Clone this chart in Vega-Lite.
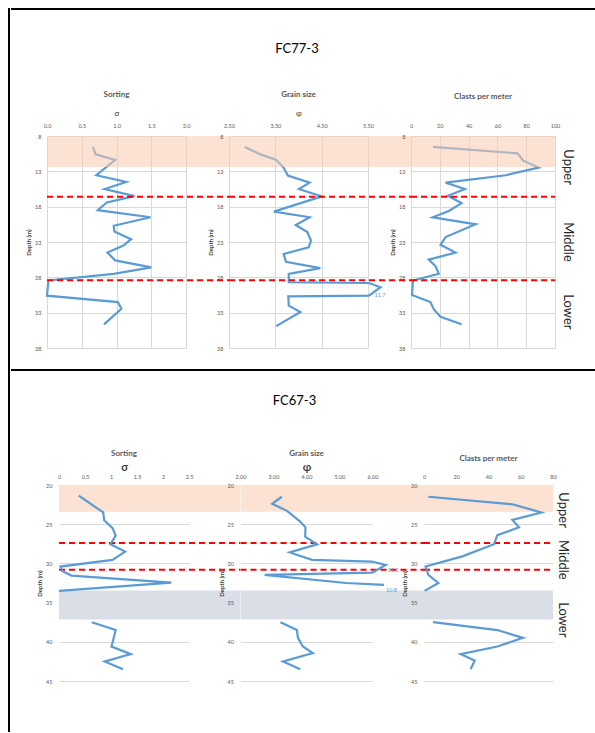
{
  "$schema": "https://vega.github.io/schema/vega-lite/v6.json",
  "padding": {"left": 8, "top": 8, "right": 0, "bottom": 0},
  "background": "white",
  "config": {
    "font": "Lato",
    "view": {"stroke": null},
    "axis": {"labelFont": "Lato", "labelFontSize": 5.5, "labelColor": "#595959", "labelOverlap": false, "gridColor": "#D9D9D9", "gridWidth": 1, "domain": false, "ticks": false, "tickSize": 0, "labelFlush": false, "titleFont": "Lato", "titleColor": "#404040"},
    "title": {"font": "Lato", "color": "#595959", "fontSize": 8, "fontWeight": "bold"}
  },
  "datasets": {
    "top_sort": [
      {"sigma": 0.66, "depth": 9.55}, {"sigma": 0.70, "depth": 10.6}, {"sigma": 0.98, "depth": 11.4}, {"sigma": 0.71, "depth": 13.55},
      {"sigma": 1.14, "depth": 14.5}, {"sigma": 0.83, "depth": 15.5}, {"sigma": 1.26, "depth": 16.5}, {"sigma": 0.86, "depth": 17.4},
      {"sigma": 0.73, "depth": 18.5}, {"sigma": 1.49, "depth": 19.5}, {"sigma": 0.96, "depth": 20.7}, {"sigma": 0.97, "depth": 21.5},
      {"sigma": 1.21, "depth": 22.6}, {"sigma": 1.10, "depth": 23.5}, {"sigma": 0.87, "depth": 24.5}, {"sigma": 0.98, "depth": 25.6},
      {"sigma": 1.50, "depth": 26.6}, {"sigma": 0.96, "depth": 27.5}, {"sigma": 0.02, "depth": 28.45}, {"sigma": 0.0, "depth": 30.6},
      {"sigma": 1.02, "depth": 31.5}, {"sigma": 1.07, "depth": 32.45}, {"sigma": 0.82, "depth": 34.65}
    ],
    "top_grain": [
      {"phi": 2.84, "depth": 9.55}, {"phi": 3.18, "depth": 10.6}, {"phi": 3.52, "depth": 11.4}, {"phi": 3.68, "depth": 12.5},
      {"phi": 3.77, "depth": 13.6}, {"phi": 4.24, "depth": 14.6}, {"phi": 4.01, "depth": 15.5}, {"phi": 4.50, "depth": 16.55},
      {"phi": 3.47, "depth": 18.7}, {"phi": 4.24, "depth": 19.5}, {"phi": 3.94, "depth": 20.6}, {"phi": 4.19, "depth": 21.6},
      {"phi": 4.27, "depth": 22.8}, {"phi": 4.22, "depth": 23.75}, {"phi": 3.68, "depth": 24.7}, {"phi": 3.73, "depth": 25.8},
      {"phi": 4.47, "depth": 26.7}, {"phi": 3.79, "depth": 27.5}, {"phi": 3.79, "depth": 28.7}, {"phi": 5.52, "depth": 28.8},
      {"phi": 5.77, "depth": 29.4, "label": "11.7"}, {"phi": 5.52, "depth": 30.6}, {"phi": 3.78, "depth": 30.7}, {"phi": 3.79, "depth": 32.0},
      {"phi": 4.04, "depth": 32.9}, {"phi": 3.52, "depth": 34.9}
    ],
    "top_clast": [
      {"clasts": 15.3, "depth": 9.55}, {"clasts": 74, "depth": 10.45}, {"clasts": 78, "depth": 11.5}, {"clasts": 88.6, "depth": 12.47},
      {"clasts": 65.8, "depth": 13.55}, {"clasts": 24, "depth": 14.6}, {"clasts": 37.4, "depth": 15.5}, {"clasts": 25.6, "depth": 16.46},
      {"clasts": 35.1, "depth": 17.5}, {"clasts": 26.3, "depth": 18.6}, {"clasts": 15.1, "depth": 19.5}, {"clasts": 44.9, "depth": 20.5},
      {"clasts": 24, "depth": 22.3}, {"clasts": 20.5, "depth": 23.4}, {"clasts": 30.9, "depth": 24.5}, {"clasts": 12.3, "depth": 25.5},
      {"clasts": 17, "depth": 26.4}, {"clasts": 19.3, "depth": 27.5}, {"clasts": 1.4, "depth": 28.45}, {"clasts": 0.7, "depth": 30.5},
      {"clasts": 13.5, "depth": 31.5}, {"clasts": 15.8, "depth": 32.5}, {"clasts": 20.5, "depth": 33.6}, {"clasts": 35.1, "depth": 34.65}
    ],
    "bot_sort": [
      {"sigma": 0.38, "depth": 21.36, "seg": "a"}, {"sigma": 0.85, "depth": 23.5, "seg": "a"}, {"sigma": 0.87, "depth": 24.5, "seg": "a"},
      {"sigma": 1.03, "depth": 25.5, "seg": "a"}, {"sigma": 1.09, "depth": 26.45, "seg": "a"}, {"sigma": 0.99, "depth": 27.56, "seg": "a"},
      {"sigma": 1.27, "depth": 28.5, "seg": "a"}, {"sigma": 1.03, "depth": 29.55, "seg": "a"}, {"sigma": 0.03, "depth": 30.4, "seg": "a"},
      {"sigma": 0.06, "depth": 30.96, "seg": "a"}, {"sigma": 0.24, "depth": 31.55, "seg": "a"}, {"sigma": 2.16, "depth": 32.44, "seg": "a"},
      {"sigma": 0.0, "depth": 33.5, "seg": "a"},
      {"sigma": 0.63, "depth": 37.5, "seg": "b"}, {"sigma": 1.09, "depth": 38.5, "seg": "b"}, {"sigma": 1.01, "depth": 40.6, "seg": "b"},
      {"sigma": 1.38, "depth": 41.57, "seg": "b"}, {"sigma": 0.88, "depth": 42.5, "seg": "b"}, {"sigma": 1.23, "depth": 43.5, "seg": "b"}
    ],
    "bot_grain": [
      {"phi": 3.25, "depth": 21.5, "seg": "a"}, {"phi": 2.96, "depth": 22.4, "seg": "a"}, {"phi": 3.41, "depth": 23.3, "seg": "a"},
      {"phi": 3.79, "depth": 24.6, "seg": "a"}, {"phi": 3.97, "depth": 25.4, "seg": "a"}, {"phi": 3.96, "depth": 26.6, "seg": "a"},
      {"phi": 4.32, "depth": 27.56, "seg": "a"}, {"phi": 3.49, "depth": 28.6, "seg": "a"}, {"phi": 4.17, "depth": 29.55, "seg": "a"},
      {"phi": 5.98, "depth": 29.77, "seg": "a"}, {"phi": 6.40, "depth": 30.2, "seg": "a", "label": "11.1"}, {"phi": 6.00, "depth": 31.17, "seg": "a"},
      {"phi": 2.73, "depth": 31.46, "seg": "a"}, {"phi": 5.20, "depth": 32.5, "seg": "a"}, {"phi": 6.35, "depth": 32.74, "seg": "a", "label": "10.8"},
      {"phi": 3.21, "depth": 37.5, "seg": "b"}, {"phi": 3.71, "depth": 38.5, "seg": "b"}, {"phi": 3.74, "depth": 39.5, "seg": "b"},
      {"phi": 3.89, "depth": 40.6, "seg": "b"}, {"phi": 4.19, "depth": 41.44, "seg": "b"}, {"phi": 3.29, "depth": 42.5, "seg": "b"},
      {"phi": 3.81, "depth": 43.5, "seg": "b"}
    ],
    "bot_clast": [
      {"clasts": 2.7, "depth": 21.5, "seg": "a"}, {"clasts": 54.8, "depth": 22.46, "seg": "a"}, {"clasts": 72.8, "depth": 23.5, "seg": "a"},
      {"clasts": 54.8, "depth": 24.46, "seg": "a"}, {"clasts": 58.9, "depth": 25.4, "seg": "a"}, {"clasts": 45.5, "depth": 26.4, "seg": "a"},
      {"clasts": 43.4, "depth": 27.56, "seg": "a"}, {"clasts": 23.8, "depth": 29.1, "seg": "a"}, {"clasts": 1.0, "depth": 30.4, "seg": "a"},
      {"clasts": 2.7, "depth": 31.46, "seg": "a"}, {"clasts": 8.9, "depth": 32.5, "seg": "a"}, {"clasts": 0.4, "depth": 33.5, "seg": "a"},
      {"clasts": 5.6, "depth": 37.5, "seg": "b"}, {"clasts": 45.5, "depth": 38.5, "seg": "b"}, {"clasts": 61.4, "depth": 39.5, "seg": "b"},
      {"clasts": 45.5, "depth": 40.6, "seg": "b"}, {"clasts": 22.7, "depth": 41.57, "seg": "b"}, {"clasts": 31.4, "depth": 42.4, "seg": "b"},
      {"clasts": 28.9, "depth": 43.5, "seg": "b"}
    ],
    "top_bands": [{"kind": "Upper", "top": 8, "bottom": 12.4}],
    "bot_bands": [{"kind": "Upper", "top": 20, "bottom": 23.4}, {"kind": "Gap", "top": 33.45, "bottom": 37.15}],
    "top_bounds": [{"depth": 16.6}, {"depth": 28.4}],
    "bot_bounds": [{"depth": 27.4}, {"depth": 30.8}],
    "top_zones": [{"zone": "Upper", "depth": 12.4}, {"zone": "Middle", "depth": 23.0}, {"zone": "Lower", "depth": 32.9}],
    "bot_zones": [{"zone": "Upper", "depth": 23.2}, {"zone": "Middle", "depth": 29.55}, {"zone": "Lower", "depth": 37.2}]
  },
  "spacing": 0,
  "hconcat": [
    {"width": 0.01, "height": 722, "data": {"values": []}, "mark": "rule", "encoding": {}, "view": {"stroke": "black", "strokeWidth": 2}},
    {
      "spacing": 0,
      "vconcat": [
        {"width": 583, "height": 0.01, "data": {"values": []}, "mark": "rule", "encoding": {}, "view": {"stroke": "black", "strokeWidth": 2}},
        {"width": 1, "height": 32, "data": {"values": []}, "mark": "rule", "encoding": {}},
        {
          "title": {"text": "FC77-3", "anchor": "middle", "fontSize": 13, "fontWeight": "normal", "color": "black", "offset": 35, "dx": 4},
          "spacing": 12,
          "hconcat": [
            {"width": 1, "height": 1, "data": {"values": []}, "mark": "rule", "encoding": {}},
            {
              "spacing": 43,
              "bounds": "flush",
              "hconcat": [
                {
                  "width": 139, "height": 212,
                  "title": {"text": "Sorting", "offset": 10},
                  "layer": [
                    {"data": {"name": "top_sort"}, "mark": {"type": "line", "color": "#5B9BD5", "strokeWidth": 2.2},
                     "encoding": {
                       "x": {"field": "sigma", "type": "quantitative", "scale": {"domain": [0, 2], "nice": false, "zero": false},
                             "axis": {"orient": "top", "values": [0, 0.5, 1, 1.5, 2], "tickCount": 50, "format": ".1f", "labelOverlap": false, "title": "σ", "titleFontSize": 8, "titleFontWeight": "normal", "titleColor": "#404040", "labelPadding": 8, "titlePadding": 6}},
                       "y": {"field": "depth", "type": "quantitative", "scale": {"domain": [8, 38], "nice": false, "zero": false, "reverse": true},
                             "axis": {"values": [8, 13, 18, 23, 28, 33, 38], "tickCount": 50, "format": "d", "labelOverlap": false, "title": "Depth (m)", "titleFontSize": 6, "titleFontWeight": "bold", "labelPadding": 6, "titlePadding": 3}},
                       "order": {"field": "depth", "type": "quantitative"}
                     }},
                    {"data": {"name": "top_bands"}, "mark": {"type": "rect", "color": "#F8CBAD", "opacity": 0.55},
                     "encoding": {"x": {"datum": 0}, "x2": {"datum": 2.62}, "y": {"field": "top", "type": "quantitative"}, "y2": {"field": "bottom"}}},
                    {"data": {"name": "top_bounds"}, "mark": {"type": "rule", "color": "#FF0000", "strokeWidth": 2, "strokeDash": [6, 4]},
                     "encoding": {"x": {"datum": 0}, "x2": {"datum": 2.62}, "y": {"field": "depth", "type": "quantitative"}}}
                  ]
                },
                {
                  "width": 139, "height": 212,
                  "title": {"text": "Grain size", "offset": 10},
                  "layer": [
                    {"data": {"name": "top_grain"}, "mark": {"type": "line", "color": "#5B9BD5", "strokeWidth": 2.2},
                     "encoding": {
                       "x": {"field": "phi", "type": "quantitative", "scale": {"domain": [2.5, 5.5], "nice": false, "zero": false},
                             "axis": {"orient": "top", "values": [2.5, 3.5, 4.5, 5.5], "tickCount": 50, "format": ".2f", "labelOverlap": false, "title": "φ", "titleFontSize": 8, "titleFontWeight": "normal", "titleColor": "#404040", "labelPadding": 8, "titlePadding": 6}},
                       "y": {"field": "depth", "type": "quantitative", "scale": {"domain": [8, 38], "nice": false, "zero": false, "reverse": true},
                             "axis": {"values": [8, 13, 18, 23, 28, 33, 38], "tickCount": 50, "format": "d", "labelOverlap": false, "title": "Depth (m)", "titleFontSize": 6, "titleFontWeight": "bold", "labelPadding": 6, "titlePadding": 3}},
                       "order": {"field": "depth", "type": "quantitative"}
                     }},
                    {"data": {"name": "top_grain"}, "transform": [{"filter": "datum.label != null"}],
                     "mark": {"type": "text", "color": "#5B9BD5", "fontSize": 5.5, "align": "left", "baseline": "top", "dx": -6, "dy": 6},
                     "encoding": {"x": {"field": "phi", "type": "quantitative"}, "y": {"field": "depth", "type": "quantitative"}, "text": {"field": "label"}}},
                    {"data": {"name": "top_bands"}, "mark": {"type": "rect", "color": "#F8CBAD", "opacity": 0.55},
                     "encoding": {"x": {"datum": 2.5}, "x2": {"datum": 6.428}, "y": {"field": "top", "type": "quantitative"}, "y2": {"field": "bottom"}}},
                    {"data": {"name": "top_bounds"}, "mark": {"type": "rule", "color": "#FF0000", "strokeWidth": 2, "strokeDash": [6, 4]},
                     "encoding": {"x": {"datum": 2.5}, "x2": {"datum": 6.428}, "y": {"field": "depth", "type": "quantitative"}}}
                  ]
                },
                {
                  "width": 144, "height": 212,
                  "title": {"text": "Clasts per meter", "offset": 22},
                  "layer": [
                    {"data": {"name": "top_clast"}, "mark": {"type": "line", "color": "#5B9BD5", "strokeWidth": 2.2},
                     "encoding": {
                       "x": {"field": "clasts", "type": "quantitative", "scale": {"domain": [0, 100], "nice": false, "zero": false},
                             "axis": {"orient": "top", "values": [0, 20, 40, 60, 80, 100], "tickCount": 50, "format": "d", "labelOverlap": false, "title": null, "labelPadding": 8}},
                       "y": {"field": "depth", "type": "quantitative", "scale": {"domain": [8, 38], "nice": false, "zero": false, "reverse": true},
                             "axis": {"values": [8, 13, 18, 23, 28, 33, 38], "tickCount": 50, "format": "d", "labelOverlap": false, "title": "Depth (m)", "titleFontSize": 6, "titleFontWeight": "bold", "labelPadding": 6, "titlePadding": 3}},
                       "order": {"field": "depth", "type": "quantitative"}
                     }},
                    {"data": {"name": "top_bands"}, "mark": {"type": "rect", "color": "#F8CBAD", "opacity": 0.55},
                     "encoding": {"x": {"datum": 0}, "x2": {"datum": 100}, "y": {"field": "top", "type": "quantitative"}, "y2": {"field": "bottom"}}},
                    {"data": {"name": "top_bounds"}, "mark": {"type": "rule", "color": "#FF0000", "strokeWidth": 2, "strokeDash": [6, 4]},
                     "encoding": {"x": {"datum": 0}, "x2": {"datum": 100}, "y": {"field": "depth", "type": "quantitative"}}},
                    {"data": {"name": "top_zones"}, "mark": {"type": "text", "angle": 90, "fontSize": 13, "color": "#262626", "font": "Lato", "align": "center", "baseline": "middle"},
                     "encoding": {"x": {"datum": 109}, "y": {"field": "depth", "type": "quantitative"}, "text": {"field": "zone"}}}
                  ]
                }
              ]
            }
          ]
        },
        {"width": 1, "height": 17, "data": {"values": []}, "mark": "rule", "encoding": {}},
        {"width": 583, "height": 0.01, "data": {"values": []}, "mark": "rule", "encoding": {}, "view": {"stroke": "black", "strokeWidth": 2}},
        {"width": 1, "height": 23, "data": {"values": []}, "mark": "rule", "encoding": {}},
        {
          "title": {"text": "FC67-3", "anchor": "middle", "fontSize": 13, "fontWeight": "normal", "color": "black", "offset": 42, "dx": 4},
          "spacing": 23,
          "hconcat": [
            {"width": 1, "height": 1, "data": {"values": []}, "mark": "rule", "encoding": {}},
            {
              "spacing": 51.5,
              "bounds": "flush",
              "hconcat": [
                {
                  "width": 130, "height": 196,
                  "title": {"text": "Sorting", "offset": 3},
                  "layer": [
                    {"data": {"name": "bot_bands"}, "mark": {"type": "rect"},
                     "encoding": {"x": {"datum": 0, "type": "quantitative", "scale": {"domain": [0, 2.5], "nice": false, "zero": false},
                                        "axis": {"orient": "top", "values": [0, 0.5, 1, 1.5, 2, 2.5], "tickCount": 50, "format": "~g", "labelOverlap": false, "title": "σ", "titleFontSize": 11, "titleFontWeight": "bold", "titleColor": "#404040", "labelPadding": 6, "titlePadding": 2}},
                                  "x2": {"datum": 3.481},
                                  "y": {"field": "top", "type": "quantitative", "scale": {"domain": [20, 45], "nice": false, "zero": false, "reverse": true},
                                        "axis": {"values": [20, 25, 30, 35, 40, 45], "tickCount": 50, "format": "d", "labelOverlap": false, "title": "Depth (m)", "titleFontSize": 6, "titleFontWeight": "bold", "labelPadding": 7, "titlePadding": 3}},
                                  "y2": {"field": "bottom"},
                                  "color": {"field": "kind", "type": "nominal", "scale": {"domain": ["Upper", "Gap"], "range": ["#FBE2D2", "#DADFE7"]}, "legend": null}}},
                    {"data": {"name": "bot_bounds"}, "mark": {"type": "rule", "color": "#FF0000", "strokeWidth": 2, "strokeDash": [6, 4]},
                     "encoding": {"x": {"datum": 0}, "x2": {"datum": 3.481}, "y": {"field": "depth", "type": "quantitative"}}},
                    {"data": {"name": "bot_sort"}, "mark": {"type": "line", "color": "#5B9BD5", "strokeWidth": 2.2},
                     "encoding": {"x": {"field": "sigma", "type": "quantitative"}, "y": {"field": "depth", "type": "quantitative"},
                                  "detail": {"field": "seg"}, "order": {"field": "depth", "type": "quantitative"}}}
                  ]
                },
                {
                  "width": 132, "height": 196,
                  "title": {"text": "Grain size", "offset": 3},
                  "layer": [
                    {"data": {"name": "bot_bands"}, "mark": {"type": "rect"},
                     "encoding": {"x": {"datum": 2, "type": "quantitative", "scale": {"domain": [2, 6], "nice": false, "zero": false},
                                        "axis": {"orient": "top", "values": [2, 3, 4, 5, 6], "tickCount": 50, "format": ".2f", "labelOverlap": false, "title": "φ", "titleFontSize": 11, "titleFontWeight": "bold", "titleColor": "#404040", "labelPadding": 6, "titlePadding": 2}},
                                  "x2": {"datum": 7.576},
                                  "y": {"field": "top", "type": "quantitative", "scale": {"domain": [20, 45], "nice": false, "zero": false, "reverse": true},
                                        "axis": {"values": [20, 25, 30, 35, 40, 45], "tickCount": 50, "format": "d", "labelOverlap": false, "title": "Depth (m)", "titleFontSize": 6, "titleFontWeight": "bold", "labelPadding": 7, "titlePadding": 3}},
                                  "y2": {"field": "bottom"},
                                  "color": {"field": "kind", "type": "nominal", "scale": {"domain": ["Upper", "Gap"], "range": ["#FBE2D2", "#DADFE7"]}, "legend": null}}},
                    {"data": {"name": "bot_bounds"}, "mark": {"type": "rule", "color": "#FF0000", "strokeWidth": 2, "strokeDash": [6, 4]},
                     "encoding": {"x": {"datum": 2}, "x2": {"datum": 7.576}, "y": {"field": "depth", "type": "quantitative"}}},
                    {"data": {"name": "bot_grain"}, "mark": {"type": "line", "color": "#5B9BD5", "strokeWidth": 2.2},
                     "encoding": {"x": {"field": "phi", "type": "quantitative"}, "y": {"field": "depth", "type": "quantitative"},
                                  "detail": {"field": "seg"}, "order": {"field": "depth", "type": "quantitative"}}},
                    {"data": {"name": "bot_grain"}, "transform": [{"filter": "datum.label != null"}],
                     "mark": {"type": "text", "color": "#5B9BD5", "fontSize": 5.5, "align": "left", "baseline": "middle", "dx": 2, "dy": 5},
                     "encoding": {"x": {"field": "phi", "type": "quantitative"}, "y": {"field": "depth", "type": "quantitative"}, "text": {"field": "label"}}}
                  ]
                },
                {
                  "width": 129, "height": 196,
                  "title": {"text": "Clasts per meter", "offset": 11},
                  "layer": [
                    {"data": {"name": "bot_bands"}, "mark": {"type": "rect"},
                     "encoding": {"x": {"datum": 0, "type": "quantitative", "scale": {"domain": [0, 80], "nice": false, "zero": false},
                                        "axis": {"orient": "top", "values": [0, 20, 40, 60, 80], "tickCount": 50, "format": "d", "labelOverlap": false, "title": null, "labelPadding": 6}},
                                  "x2": {"datum": 80},
                                  "y": {"field": "top", "type": "quantitative", "scale": {"domain": [20, 45], "nice": false, "zero": false, "reverse": true},
                                        "axis": {"values": [20, 25, 30, 35, 40, 45], "tickCount": 50, "format": "d", "labelOverlap": false, "title": "Depth (m)", "titleFontSize": 6, "titleFontWeight": "bold", "labelPadding": 7, "titlePadding": 3}},
                                  "y2": {"field": "bottom"},
                                  "color": {"field": "kind", "type": "nominal", "scale": {"domain": ["Upper", "Gap"], "range": ["#FBE2D2", "#DADFE7"]}, "legend": null}}},
                    {"data": {"name": "bot_bounds"}, "mark": {"type": "rule", "color": "#FF0000", "strokeWidth": 2, "strokeDash": [6, 4]},
                     "encoding": {"x": {"datum": 0}, "x2": {"datum": 80}, "y": {"field": "depth", "type": "quantitative"}}},
                    {"data": {"name": "bot_clast"}, "mark": {"type": "line", "color": "#5B9BD5", "strokeWidth": 2.2},
                     "encoding": {"x": {"field": "clasts", "type": "quantitative"}, "y": {"field": "depth", "type": "quantitative"},
                                  "detail": {"field": "seg"}, "order": {"field": "depth", "type": "quantitative"}}},
                    {"data": {"name": "bot_zones"}, "mark": {"type": "text", "angle": 90, "fontSize": 13, "color": "#262626", "font": "Lato", "align": "center", "baseline": "middle"},
                     "encoding": {"x": {"datum": 86.2}, "y": {"field": "depth", "type": "quantitative"}, "text": {"field": "zone"}}}
                  ]
                }
              ]
            }
          ]
        }
      ]
    }
  ]
}
